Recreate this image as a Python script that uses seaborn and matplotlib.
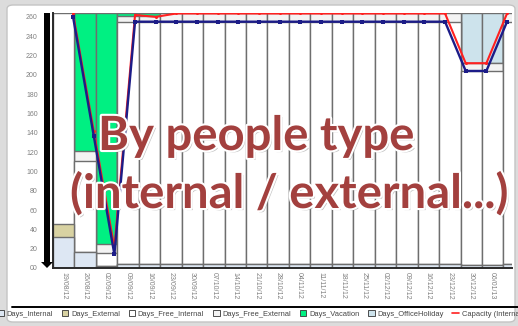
import numpy as np
import pandas as pd
import matplotlib
matplotlib.use("Agg")
import matplotlib.pyplot as plt
import seaborn as sns
from matplotlib.patches import Patch, FancyBboxPatch, Rectangle, Polygon
from matplotlib.lines import Line2D
import matplotlib.patheffects as pe

# ---- data -------------------------------------------------------------
weeks = ["19/08/12", "26/08/12", "02/09/12", "09/09/12", "16/09/12", "23/09/12",
         "30/09/12", "07/10/12", "14/10/12", "21/10/12", "28/10/12", "04/11/12",
         "11/11/12", "18/11/12", "25/11/12", "02/12/12", "09/12/12", "16/12/12",
         "23/12/12", "30/12/12", "06/01/13", "13/01/13"]

days_internal = [32, 17, 2, 4, 4, 4, 4, 4, 4, 4, 4, 4, 4, 4, 4, 4, 4, 4, 4, 3, 3, 4]
days_external = [14, 0, 0, 0, 0, 0, 0, 0, 0, 0, 0, 0, 0, 0, 0, 0, 0, 0, 0, 0, 0, 0]
days_free_internal = [218, 94, 14, 251, 251, 251, 251, 251, 251, 251, 251, 251,
                      251, 251, 251, 251, 251, 251, 251, 201, 201, 251]
days_free_external = [0, 10, 9, 6, 6, 9, 9, 9, 9, 9, 9, 9, 9, 9, 9, 9, 9, 9, 9, 8, 8, 9]
days_vacation = [0, 143, 239, 3, 3, 0, 0, 0, 0, 0, 0, 0, 0, 0, 0, 0, 0, 0, 0, 0, 0, 0]
days_office_holiday = [0, 0, 0, 0, 0, 0, 0, 0, 0, 0, 0, 0, 0, 0, 0, 0, 0, 0, 0, 52, 52, 0]

capacity_internal = [263.5, 142, 21, 262, 260, 263.5, 263.5, 263.5, 263.5, 263.5, 263.5,
                     263.5, 263.5, 263.5, 263.5, 263.5, 263.5, 263.5, 263.5, 212, 212, 263.5]
capacity_total = [260, 137, 14, 255, 255, 255, 255, 255, 255, 255, 255, 255, 255, 255,
                  255, 255, 255, 255, 255, 204, 204, 255]

y_ticks = [0, 20, 40, 60, 80, 100, 120, 140, 160, 180, 200, 220, 240, 260]
y_tick_labels = ["00", "20", "40", "60", "80", "100", "120", "140", "160", "180",
                 "200", "220", "240", "260"]

# ---- style ------------------------------------------------------------
sns.set_theme(style="white")
plt.rcParams["font.family"] = ["Liberation Sans", "DejaVu Sans"]

series = [
    ("Days_Internal", days_internal, "#dde7f3"),
    ("Days_External", days_external, "#d8d2a2"),
    ("Days_Free_Internal", days_free_internal, "#ffffff"),
    ("Days_Free_External", days_free_external, "#f3f3f3"),
    ("Days_Vacation", days_vacation, "#00f082"),
    ("Days_OfficeHoliday", days_office_holiday, "#cde3ec"),
]

W, H = 518, 326
fig = plt.figure(figsize=(W / 100, H / 100), dpi=100)
fig.patch.set_facecolor("#dcdcdc")

# white card behind everything
card = FancyBboxPatch((7 / W, 4 / H), 508 / W, 317 / H,
                      boxstyle="round,pad=0,rounding_size=0.012",
                      transform=fig.transFigure, facecolor="white",
                      edgecolor="#c4c4c4", linewidth=1.0, zorder=-10)
fig.patches.append(card)

ax_l, ax_r, ax_t, ax_b = 53, 512, 13, 268
ax = fig.add_axes([ax_l / W, 1 - ax_b / H, (ax_r - ax_l) / W, (ax_b - ax_t) / H])
ax.set_facecolor("white")

# stacked bars: draw cumulative totals from the top layer down
df = pd.DataFrame({"week": weeks})
cum = np.zeros(len(weeks))
tops = []
for name, vals, col in series:
    cum = cum + np.array(vals, dtype=float)
    tops.append((name, cum.copy(), col))
for name, top, col in reversed(tops):
    df["top"] = top
    sns.barplot(data=df, x="week", y="top", color=col, saturation=1, width=1,
                edgecolor="#6e6e6e", linewidth=1.0, errorbar=None, ax=ax)

ax.set_xlim(-0.5, 20.9)
ax.set_ylim(0, 264)
ax.set_yticks(y_ticks)
ax.set_yticklabels(y_tick_labels)
ax.set_xlabel("")
ax.set_ylabel("")
ax.tick_params(axis="y", labelsize=5, colors="#808080", pad=11, length=0)
ax.tick_params(axis="x", labelsize=5, colors="#808080", pad=3, length=0)
for lbl in ax.get_xticklabels():
    lbl.set_rotation(-90)
    lbl.set_va("top")
    lbl.set_ha("center")
for s in ["top", "right"]:
    ax.spines[s].set_visible(False)
for s in ["left", "bottom"]:
    ax.spines[s].set_color("#2a2a2a")
    ax.spines[s].set_linewidth(1.4)
    ax.spines[s].set_zorder(5)

# capacity lines on their own category scale
ax2 = ax.twiny()
idx = np.arange(len(capacity_internal))
sns.lineplot(x=idx, y=capacity_internal, ax=ax2, color="#ff2020", linewidth=1.5,
             marker="o", markersize=2.2, markeredgewidth=0)
sns.lineplot(x=idx, y=capacity_total, ax=ax2, color="#1c1c88", linewidth=1.7,
             marker="s", markersize=2.4, markeredgewidth=0)
ax2.set_xlim(-0.97, 21.24)
ax2.set_ylim(0, 264)
ax2.set_xticks([])
for s in ax2.spines.values():
    s.set_visible(False)

# scroll slider at the left of the value axis
fig.patches.append(Rectangle((44 / W, 1 - 262 / H), 6 / W, 249 / H,
                             transform=fig.transFigure, facecolor="black",
                             edgecolor="none", zorder=3))
fig.patches.append(Polygon([(41 / W, 1 - 262 / H), (53 / W, 1 - 262 / H),
                            (47 / W, 1 - 268 / H)], closed=True,
                           transform=fig.transFigure, facecolor="black",
                           edgecolor="none", zorder=3))

# separator above legend
fig.lines.append(Line2D([12 / W, 1.0], [1 - 307 / H, 1 - 307 / H],
                        transform=fig.transFigure, color="black", linewidth=1.4))

handles = [Patch(facecolor=c, edgecolor="#333333", linewidth=0.6) for _, _, c in series]
labels = [n for n, _, _ in series]
handles.append(Line2D([], [], color="#ff2020", linewidth=1.2))
labels.append("Capacity (Internal)")
fig.legend(handles, labels, loc="center left", bbox_to_anchor=(-3 / W, 1 - 314 / H),
           ncol=7, frameon=False, fontsize=5.4, handlelength=0.9, handleheight=0.9,
           handletextpad=0.35, columnspacing=1.15, borderpad=0, borderaxespad=0,
           labelcolor="#444444")

# headline overlay
fx = [pe.SimplePatchShadow(offset=(1.5, -1.5), shadow_rgbFace="#888888", alpha=0.5),
      pe.Stroke(linewidth=3, foreground="white"), pe.Normal()]
fig.text(98 / W, 1 - 150 / H, "By people type", fontsize=34, family="Lato",
         weight="bold", color="#a3403e", ha="left", va="baseline",
         path_effects=fx, zorder=10)
fig.text(70 / W, 1 - 208 / H, "(internal / external...)", fontsize=34, family="Lato",
         weight="bold", color="#a3403e", ha="left", va="baseline",
         path_effects=fx, zorder=10)

fig.savefig("out.png", dpi=100, facecolor=fig.get_facecolor())
